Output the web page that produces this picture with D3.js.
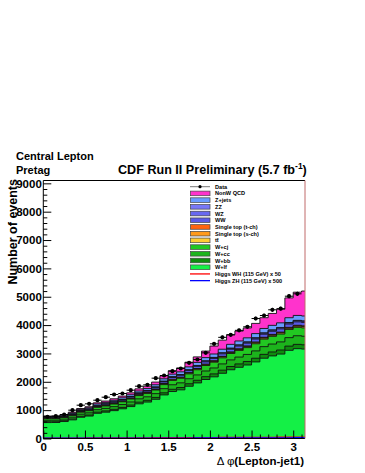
<!DOCTYPE html>
<html><head><meta charset="utf-8">
<script src="https://cdn.jsdelivr.net/npm/d3@7"></script>
<style>
body{margin:0;background:#fff}
svg{display:block}
text{font-family:"Liberation Sans",Arial,Helvetica,sans-serif;font-weight:bold;fill:#000}
</style>
</head><body>
<svg id="c" width="365" height="473"></svg>
<script>
// ---------- data ----------
const binEdges = [0,0.1,0.2,0.3,0.4,0.5,0.6,0.7,0.8,0.9,1.0,1.1,1.2,1.3,1.4,1.5,1.6,1.7,1.8,1.9,2.0,2.1,2.2,2.3,2.4,2.5,2.6,2.7,2.8,2.9,3.0,3.1,3.2];
const dataCounts = [765,787,846,999,1175,1223,1351,1457,1552,1587,1704,1845,1893,2128,2222,2375,2469,2669,2786,3021,3339,3568,3656,3815,3940,4232,4338,4540,4580,5019,5103];
const wlf   = [562,564,599,657,749,791,888,929,983,1048,1126,1223,1285,1383,1537,1657,1716,1843,1960,2081,2175,2300,2424,2511,2592,2701,2832,2913,2978,3110,3168,3154];
const wbb   = [27,27,29,32,36,38,43,45,47,50,54,59,62,66,74,79,82,88,94,100,104,110,116,120,124,130,136,140,143,149,152,151];
const wcc   = [54,54,57,63,72,76,85,89,94,100,108,117,123,133,147,159,165,177,188,200,209,221,232,241,249,259,272,279,286,298,304,302];
const wcj   = [52,53,56,61,70,74,83,86,92,98,105,114,120,129,143,154,160,172,183,194,203,214,226,234,241,252,264,271,277,290,295,294];
const ttbar = [7,7,7,8,9,10,11,11,12,13,14,15,16,17,19,20,21,23,24,26,27,28,30,31,32,33,35,36,37,38,39,39];
const stopS = [2,2,2,2,2,2,2,3,3,3,3,3,4,4,4,5,5,5,5,6,6,6,7,7,7,7,8,8,8,9,9,9];
const stopT = [5,5,5,5,6,7,7,8,8,9,9,10,11,11,13,14,14,15,16,17,18,19,20,21,21,22,23,24,24,26,26,26];
const ww    = [22,22,23,25,29,30,34,36,38,40,43,47,49,53,59,64,66,71,75,80,83,88,93,96,99,104,109,112,114,119,122,121];
const wz    = [7,7,7,8,9,10,11,11,12,13,14,15,16,17,19,20,21,23,24,26,27,28,30,31,32,33,35,36,37,38,39,39];
const zz    = [2,2,2,3,3,3,4,4,4,4,5,5,5,6,6,7,7,8,8,9,9,9,10,10,11,11,12,12,12,13,13,13];
const zjets = [31,31,33,36,41,43,49,51,54,57,62,67,70,76,84,91,94,101,107,114,119,126,133,138,142,148,155,160,163,170,174,173];
const qcd   = [20,22,25,28,32,36,42,48,54,60,68,76,85,95,105,120,140,165,195,230,280,320,340,350,350,360,380,420,480,700,820,880];
const higgsWH50  = [8,9,10,10,11,12,13,14,15,16,17,18,19,21,22,23,24,25,26,27,29,30,31,32,33,34,36,37,38,39,40,41];
const higgsZH500 = [3,3,4,4,4,5,5,6,6,7,7,8,8,9,9,10,10,11,12,12,13,14,14,15,16,17,17,18,19,20,21,22];
const yMajorTicks = [0,1000,2000,3000,4000,5000,6000,7000,8000,9000];
const xMajorTicks = [0,0.5,1,1.5,2,2.5,3];
const xTickLabels = ["0","0.5","1","1.5","2","2.5","3"];

// stack, bottom to top
const stackSeries = [
  {name:"W+lf", values:wlf, color:"#14f046"},
  {name:"W+bb", values:wbb, color:"#0e8c0e"},
  {name:"W+cc", values:wcc, color:"#1cb41c"},
  {name:"W+cj", values:wcj, color:"#22c822"},
  {name:"ttbar", values:ttbar, color:"#ffcc33", label:"tt\u0304"},
  {name:"Single top (s-ch)", values:stopS, color:"#ff9a1a"},
  {name:"Single top (t-ch)", values:stopT, color:"#ff6410"},
  {name:"WW", values:ww, color:"#5a5ae6"},
  {name:"WZ", values:wz, color:"#6868f0"},
  {name:"ZZ", values:zz, color:"#7878f6"},
  {name:"Z+jets", values:zjets, color:"#6a9cff"},
  {name:"NonW QCD", values:qcd, color:"#ff33cc"}
];

// ---------- layout ----------
const svg = d3.select("#c");
const L = 43.3, R = 305, T = 180.5, B = 438.5;
const x = d3.scaleLinear().domain([0, Math.PI]).range([L, R]);
const y = d3.scaleLinear().domain([0, 9100]).range([B, T]);

svg.append("defs").append("clipPath").attr("id","frame")
  .append("rect").attr("x",L).attr("y",T).attr("width",R-L).attr("height",B-T);

const plot = svg.append("g").attr("clip-path","url(#frame)");
const nb = binEdges.length - 1;

// cumulative layers
let cum = new Array(nb).fill(0);
const layers = stackSeries.map(s => {
  const top = cum.map((c,i) => c + s.values[i]);
  cum = top;
  return Object.assign({}, s, {top});
});

const line = d3.line().x(d => x(d[0])).y(d => y(d[1]));
function stepPts(vals, closed){
  const pts = [];
  if (closed) pts.push([binEdges[0], 0]);
  for (let i = 0; i < nb; i++){
    pts.push([binEdges[i], vals[i]]);
    pts.push([binEdges[i+1], vals[i]]);
  }
  if (closed) pts.push([binEdges[nb], 0]);
  return pts;
}

// draw total first, lower cumulative ones on top
layers.slice().reverse().forEach(l => {
  plot.append("path")
    .attr("d", line(stepPts(l.top, true)) + "Z")
    .attr("fill", l.color)
    .attr("stroke", "#111")
    .attr("stroke-width", 0.9);
});

// Higgs curves
plot.append("path").attr("d", line(stepPts(higgsWH50,false)))
  .attr("fill","none").attr("stroke","#ff0000").attr("stroke-width",1.6);
plot.append("path").attr("d", line(stepPts(higgsZH500,false)))
  .attr("fill","none").attr("stroke","#0000ff").attr("stroke-width",1.6);

// data points
const dg = plot.append("g");
dataCounts.forEach((v,i) => {
  const xc = (binEdges[i] + binEdges[i+1]) / 2;
  const e = Math.sqrt(v);
  dg.append("line").attr("x1", x(binEdges[i])).attr("x2", x(binEdges[i+1]))
    .attr("y1", y(v)).attr("y2", y(v)).attr("stroke","#000").attr("stroke-width",1);
  dg.append("line").attr("x1", x(xc)).attr("x2", x(xc))
    .attr("y1", y(v - e)).attr("y2", y(v + e)).attr("stroke","#000").attr("stroke-width",1);
  dg.append("circle").attr("cx", x(xc)).attr("cy", y(v)).attr("r", 2.1).attr("fill","#000");
});

// ---------- axes ----------
const yMinor = d3.range(0, 9101, 200).filter(v => v % 1000 !== 0);
const yAx = svg.append("g").attr("transform", `translate(${L},0)`);
yAx.call(d3.axisLeft(y).tickValues(yMinor).tickSize(-4).tickFormat(""));
yAx.call(g => g.select(".domain").remove());
const yAx2 = svg.append("g").attr("transform", `translate(${L},0)`);
yAx2.call(d3.axisLeft(y).tickValues(yMajorTicks).tickSize(-8).tickPadding(1.5).tickFormat(d3.format("d")));
yAx2.call(g => g.select(".domain").remove());
yAx2.selectAll("text").style("font-size","11.5px").style("font-family",'"Liberation Sans",Arial,sans-serif').style("font-weight","bold");

const xMinor = d3.range(0, 3.15, 0.1).filter(v => Math.abs(v*2 - Math.round(v*2)) > 1e-6);
const xAx = svg.append("g").attr("transform", `translate(0,${B})`);
xAx.call(d3.axisBottom(x).tickValues(xMinor).tickSize(-4).tickFormat(""));
xAx.call(g => g.select(".domain").remove());
const xAx2 = svg.append("g").attr("transform", `translate(0,${B})`);
xAx2.call(d3.axisBottom(x).tickValues(xMajorTicks).tickSize(-8).tickPadding(4)
  .tickFormat((d,i) => xTickLabels[i]));
xAx2.call(g => g.select(".domain").remove());
xAx2.selectAll("text").style("font-size","11.5px").style("font-family",'"Liberation Sans",Arial,sans-serif').style("font-weight","bold");
svg.selectAll(".tick line").attr("stroke","#000");

// frame
svg.append("path").attr("d", `M${R},${T}H${L}V${B}H${R}`).attr("fill","none").attr("stroke","#000").attr("stroke-width",1);
svg.append("line").attr("x1",R).attr("x2",R).attr("y1",T).attr("y2",B).attr("stroke","#c06a6a").attr("stroke-width",1);

// ---------- texts ----------
svg.append("text").attr("x",16).attr("y",160).style("font-size","11px").text("Central Lepton");
svg.append("text").attr("x",16).attr("y",173.5).style("font-size","11px").text("Pretag");
const title = svg.append("text").attr("x",118).attr("y",174).style("font-size","12.6px");
title.append("tspan").text("CDF Run II Preliminary (5.7 fb");
title.append("tspan").attr("dy",-5).style("font-size","8.5px").text("-1");
title.append("tspan").attr("dy",5).text(")");

svg.append("text").attr("transform","translate(16.5,179) rotate(-90)")
  .attr("text-anchor","end").style("font-size","12.5px").text("Number of events");

const xt = svg.append("text").attr("x",304).attr("y",465).attr("text-anchor","end").style("font-size","11.5px");
xt.append("tspan").style("font-weight","normal").text("\u0394 \u03c6");
xt.append("tspan").text("(Lepton-jet1)");

// ---------- legend ----------
const legendItems = [{name:"Data", type:"data"}]
  .concat(stackSeries.slice().reverse().map(s => ({name: s.label || s.name, type:"box", color:s.color})))
  .concat([{name:"Higgs WH (115 GeV) x 50", type:"line", color:"#ff0000"},
           {name:"Higgs ZH (115 GeV) x 500", type:"line", color:"#0000ff"}]);
const lg = svg.append("g");
const ly0 = 186.7, ldy = 6.71;
legendItems.forEach((d,i) => {
  const yy = ly0 + i*ldy;
  if (d.type === "data"){
    lg.append("line").attr("x1",190).attr("x2",210).attr("y1",yy).attr("y2",yy).attr("stroke","#777").attr("stroke-width",1);
    lg.append("circle").attr("cx",200).attr("cy",yy).attr("r",1.6).attr("fill","#000");
  } else if (d.type === "box"){
    lg.append("rect").attr("x",190.5).attr("y",yy-2.3).attr("width",19.5).attr("height",4.6)
      .attr("fill",d.color).attr("stroke","#444").attr("stroke-width",0.7);
  } else {
    lg.append("line").attr("x1",190).attr("x2",210).attr("y1",yy).attr("y2",yy).attr("stroke",d.color).attr("stroke-width",1.3);
  }
  lg.append("text").attr("x",215).attr("y",yy+2).style("font-size","5.6px").text(d.name);
});
</script>
</body></html>
